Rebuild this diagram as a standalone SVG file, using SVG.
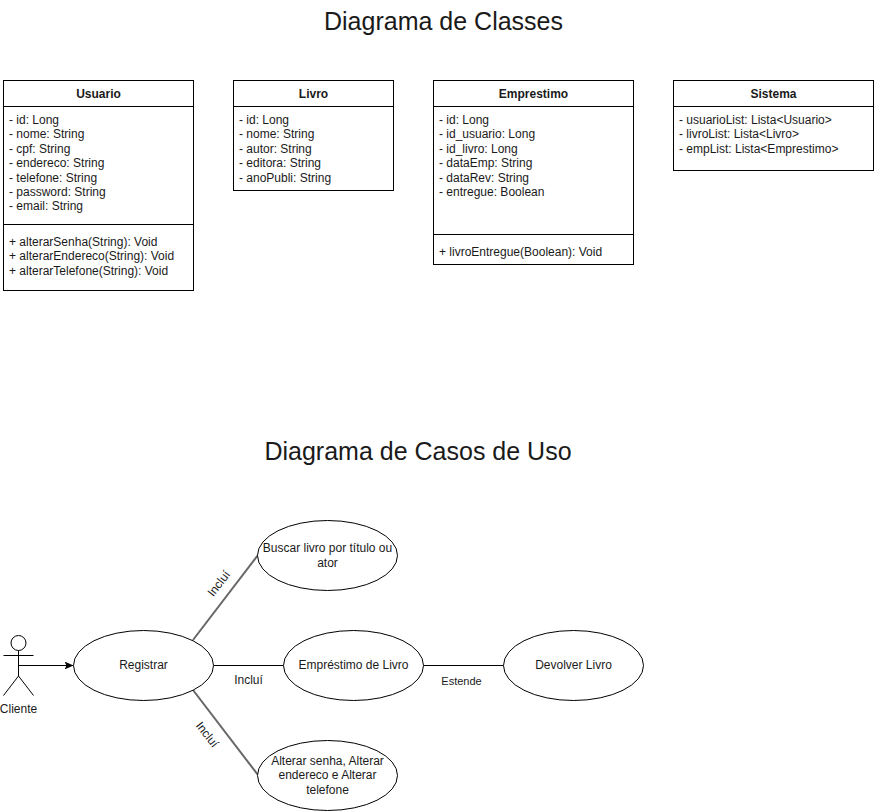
<svg xmlns="http://www.w3.org/2000/svg" width="874" height="811" viewBox="0 0 874 811">
<style>
text{font-family:"Liberation Sans",Arial,sans-serif;font-size:12px;fill:#1a1a1a}
.t{font-size:25px;text-anchor:middle}
.h{font-weight:bold;font-size:12px;text-anchor:middle}
.c{text-anchor:middle}
.s{fill:#fff;stroke:#000;stroke-width:1}
.l{fill:none;stroke:#000;stroke-width:1}
.g{fill:none;stroke:#666;stroke-width:2}
.sm{font-size:11px;text-anchor:middle}
</style>
<defs><marker id="arr" markerWidth="10" markerHeight="9" refX="9" refY="4" orient="auto" markerUnits="userSpaceOnUse"><path d="M0 0L9 4L0 8L2 4Z" fill="#000"/></marker></defs>
<rect width="874" height="811" fill="#fff"/>
<text class="t" x="443.500" y="30">Diagrama de Classes</text>
<text class="t" x="418" y="460">Diagrama de Casos de Uso</text>
<g id="usuario">
<rect class="s" x="3.500" y="80.500" width="190" height="210"/>
<path class="l" d="M3.500 106.500H193.500M3.500 224.500H193.500"/>
<text class="h" x="98.500" y="98">Usuario</text>
<text x="9" y="124">- id: Long</text><text x="9" y="138">- nome: String</text><text x="9" y="153">- cpf: String</text><text x="9" y="167">- endereco: String</text><text x="9" y="182">- telefone: String</text><text x="9" y="196">- password: String</text><text x="9" y="210">- email: String</text>
<text x="9" y="246">+ alterarSenha(String): Void</text><text x="9" y="260">+ alterarEndereco(String): Void</text><text x="9" y="275">+ alterarTelefone(String): Void</text>
</g>
<g id="livro">
<rect class="s" x="233.500" y="80.500" width="160" height="110"/>
<path class="l" d="M233.500 106.500H393.500"/>
<text class="h" x="313.500" y="98">Livro</text>
<text x="239" y="124">- id: Long</text><text x="239" y="138">- nome: String</text><text x="239" y="153">- autor: String</text><text x="239" y="167">- editora: String</text><text x="239" y="182">- anoPubli: String</text>
</g>
<g id="emprestimo">
<rect class="s" x="433.500" y="80.500" width="200" height="184"/>
<path class="l" d="M433.500 106.500H633.500M433.500 234.500H633.500"/>
<text class="h" x="533.500" y="98">Emprestimo</text>
<text x="439" y="124">- id: Long</text><text x="439" y="138">- id_usuario: Long</text><text x="439" y="153">- id_livro: Long</text><text x="439" y="167">- dataEmp: String</text><text x="439" y="182">- dataRev: String</text><text x="439" y="196">- entregue: Boolean</text>
<text x="439" y="256">+ livroEntregue(Boolean): Void</text>
</g>
<g id="sistema">
<rect class="s" x="673.500" y="80.500" width="200" height="90"/>
<path class="l" d="M673.500 106.500H873.500"/>
<text class="h" x="773.500" y="98">Sistema</text>
<text x="679" y="124">- usuarioList: Lista&lt;Usuario&gt;</text><text x="679" y="138">- livroList: Lista&lt;Livro&gt;</text><text x="679" y="153">- empList: Lista&lt;Emprestimo&gt;</text>
</g>
<g id="connectors">
<path class="l" d="M18.500 665.500H73.500" marker-end="url(#arr)"/>
<path class="g" d="M193 640L258 555"/>
<path class="g" d="M193 690L258 775"/>
<path class="l" d="M213.500 665.500H283.500"/>
<path class="l" d="M423.500 665.500H503.500"/>
<text class="c" transform="translate(222 586) rotate(-52)" x="0" y="0">Incluí</text>
<text class="c" x="248.500" y="684">Incluí</text>
<text class="c" transform="translate(204 737) rotate(52)" x="0" y="0">Incluí</text>
<text class="sm" x="461.500" y="685">Estende</text>
</g>
<g id="cliente">
<circle class="l" cx="18.500" cy="643" r="7.500"/>
<path class="l" d="M18.500 650.500V676M3.500 655.500H33.500M18.500 676L3.500 695.500M18.500 676L33.500 695.500"/>
<text class="c" x="18.500" y="713">Cliente</text>
</g>
<g id="registrar"><ellipse class="s" cx="143.500" cy="665.500" rx="70" ry="35"/><text class="c" x="143.500" y="669">Registrar</text></g>
<g id="buscar"><ellipse class="s" cx="327.500" cy="555.500" rx="70" ry="35"/><text class="c" x="327.500" y="552">Buscar livro por título ou</text><text class="c" x="327.500" y="567">ator</text></g>
<g id="emprestimo-livro"><ellipse class="s" cx="353.500" cy="665.500" rx="70" ry="35"/><text class="c" x="353.500" y="669">Empréstimo de Livro</text></g>
<g id="devolver"><ellipse class="s" cx="573.500" cy="665.500" rx="70" ry="35"/><text class="c" x="573.500" y="669">Devolver Livro</text></g>
<g id="alterar"><ellipse class="s" cx="327.500" cy="775.500" rx="70" ry="35"/><text class="c" x="327.500" y="765">Alterar senha, Alterar</text><text class="c" x="327.500" y="779">endereco e Alterar</text><text class="c" x="327.500" y="794">telefone</text></g>
</svg>
